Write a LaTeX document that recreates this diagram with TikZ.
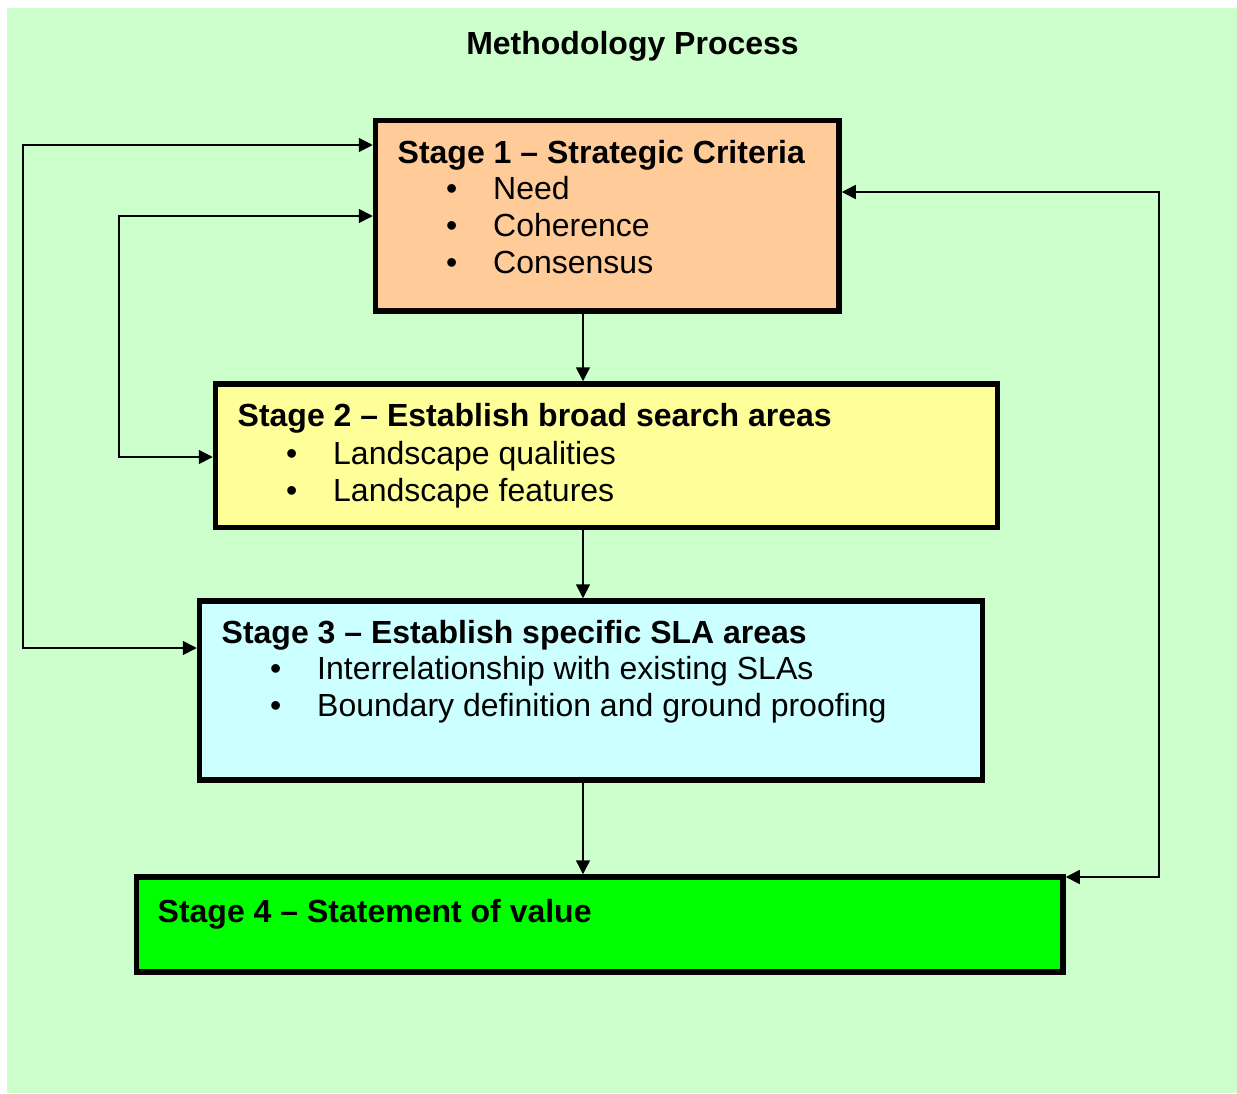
\documentclass[tikz,border=0pt]{standalone}
\usepackage{fontspec}
\setmainfont{Liberation Sans}
\usetikzlibrary{arrows.meta}
\definecolor{bggreen}{HTML}{CCFFCC}
\definecolor{peach}{HTML}{FFCC99}
\definecolor{paleyellow}{HTML}{FFFF99}
\definecolor{palecyan}{HTML}{CCFFFF}
\definecolor{brightgreen}{HTML}{00FF00}
\tikzset{
  stagebox/.style={draw=black, line width=5.5pt, rectangle, inner sep=0pt},
  stagetitle/.style={anchor=base west, inner sep=0pt, font=\fontsize{32}{37}\selectfont\bfseries},
  itemtext/.style={anchor=base west, inner sep=0pt, font=\fontsize{32}{37}\selectfont},
  conn/.style={draw=black, line width=1.6pt, {Triangle[length=14pt,width=14pt]}-{Triangle[length=14pt,width=14pt]}},
  down/.style={draw=black, line width=1.6pt, -{Triangle[length=14pt,width=14pt]}}
}
\begin{document}
\begin{tikzpicture}[x=1pt,y=-1pt]
\useasboundingbox (0,0) rectangle (1237,1093);
\fill[bggreen] (7,8) rectangle (1237,1093);

% title
\node[anchor=base, inner sep=0pt, font=\fontsize{32}{37}\selectfont\bfseries] (title) at (632.5,54) {Methodology Process};

% boxes
\node[stagebox, fill=peach, minimum width=463.5pt, minimum height=190.5pt] (s1) at (607.25,215.75) {};
\node[stagebox, fill=paleyellow, minimum width=782pt, minimum height=143.5pt] (s2) at (606.5,455.75) {};
\node[stagebox, fill=palecyan, minimum width=783pt, minimum height=179pt] (s3) at (591,690.5) {};
\node[stagebox, fill=brightgreen, minimum width=926.5pt, minimum height=95pt] (s4) at (599.75,924.5) {};

% stage 1 text
\node[stagetitle] (t1) at (397.5,163) {Stage 1 – Strategic Criteria};
\node[itemtext] (b1a) at (446,199) {•};
\node[itemtext] (i1a) at (493,199) {Need};
\node[itemtext] (b1b) at (446,236) {•};
\node[itemtext] (i1b) at (493,236) {Coherence};
\node[itemtext] (b1c) at (446,273) {•};
\node[itemtext] (i1c) at (493,273) {Consensus};

% stage 2 text
\node[stagetitle] (t2) at (237.5,426) {Stage 2 – Establish broad search areas};
\node[itemtext] (b2a) at (286,464) {•};
\node[itemtext] (i2a) at (333,464) {Landscape qualities};
\node[itemtext] (b2b) at (286,501) {•};
\node[itemtext] (i2b) at (333,501) {Landscape features};

% stage 3 text
\node[stagetitle] (t3) at (221.5,643) {Stage 3 – Establish specific SLA areas};
\node[itemtext] (b3a) at (270,679) {•};
\node[itemtext] (i3a) at (317,679) {Interrelationship with existing SLAs};
\node[itemtext] (b3b) at (270,716) {•};
\node[itemtext] (i3b) at (317,716) {Boundary definition and ground proofing};

% stage 4 text
\node[stagetitle] (t4) at (157.5,922) {Stage 4 – Statement of value};

% helper coordinates
\coordinate (vx) at (583,0);
\coordinate (lo) at (23,0);
\coordinate (li) at (119,0);
\coordinate (ro) at (1159,0);
\coordinate (ya) at (0,145);
\coordinate (yb) at (0,216);
\coordinate (yc) at (0,457);
\coordinate (yd) at (0,648);
\coordinate (ye) at (0,192);
\coordinate (yf) at (0,877);

% vertical arrows
\draw[down] (s1.south -| vx) -- (s2.north -| vx);
\draw[down] (s2.south -| vx) -- (s3.north -| vx);
\draw[down] (s3.south -| vx) -- (s4.north -| vx);

% feedback loops
\draw[conn] (s1.west |- ya) -- (lo |- ya) -- (lo |- yd) -- (s3.west |- yd);
\draw[conn] (s1.west |- yb) -- (li |- yb) -- (li |- yc) -- (s2.west |- yc);
\draw[conn] (s1.east |- ye) -- (ro |- ye) -- (ro |- yf) -- (s4.east |- yf);
\end{tikzpicture}
\end{document}
